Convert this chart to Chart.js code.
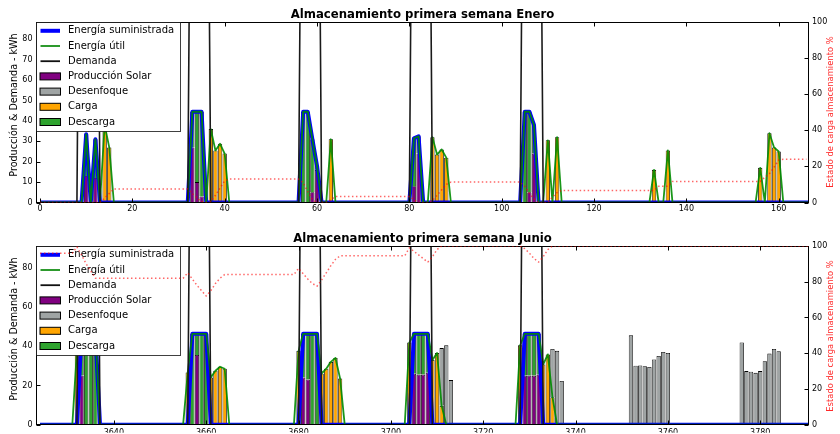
<!DOCTYPE html>
<html lang="es">
<head>
<meta charset="utf-8">
<title>Almacenamiento primera semana</title>
<script src="https://cdn.jsdelivr.net/npm/chart.js@4.4.1/dist/chart.umd.min.js"></script>
<style>
  html, body { margin: 0; padding: 0; background: #ffffff; }
  canvas { display: block; }
</style>
</head>
<body>
<canvas id="graficoEnero" width="840" height="217"></canvas>
<canvas id="graficoJunio" width="840" height="217"></canvas>
<script>
const FUENTE = "'DejaVu Sans', sans-serif";

// ---- Semana de enero: pares [hora, valor] ----
const eneroTicksX = [0, 20, 40, 60, 80, 100, 120, 140, 160];
const eneroTicksY = [0, 10, 20, 30, 40, 50, 60, 70, 80];

const eneroDemanda = [[0, 0], [8, 0], [9, 300], [12, 300], [13, 0], [32, 0], [33, 300], [36, 300], [37, 0],
  [56, 0], [57, 300], [60, 300], [61, 0], [80, 0], [81, 300], [84, 300], [85, 0],
  [104, 0], [105, 300], [108, 300], [109, 0], [167, 0]];
const eneroSuministrada = [[0, 0], [9, 0], [10, 33.5], [11, 0], [12, 31], [13, 0], [32, 0], [33, 44.5], [34, 44.5],
  [35, 44.5], [36, 0], [56, 0], [57, 44.5], [58, 44.5], [59, 31], [60, 18], [61, 0], [80, 0], [81, 31.5],
  [82, 32.5], [83, 0], [104, 0], [105, 44.5], [106, 44.5], [107, 38], [108, 0], [167, 0]];
const eneroUtil = [[0, 0], [9, 0], [10, 33.5], [11, 0], [12, 31], [13, 0], [14, 38], [15, 27], [16, 0],
  [32, 0], [33, 44.5], [34, 44.5], [35, 44.5], [36, 0], [37, 36], [38, 25.5], [39, 28.8], [40, 24], [41, 0],
  [56, 0], [57, 44.5], [58, 44.5], [59, 31], [60, 18], [61, 0], [62, 0], [63, 31], [64, 0],
  [80, 0], [81, 31.5], [82, 32.5], [83, 0], [84, 0], [85, 32], [86, 23.5], [87, 26], [88, 22], [89, 0],
  [104, 0], [105, 44.5], [106, 44.5], [107, 38], [108, 0], [109, 0], [110, 30.5], [111, 0], [112, 32], [113, 0],
  [132, 0], [133, 16], [134, 0], [135, 0], [136, 25.5], [137, 0],
  [155, 0], [156, 17], [157, 0], [158, 34], [159, 27], [160, 25], [161, 0], [167, 0]];
const eneroSolar = [[10, 13], [12, 12], [33, 27], [34, 10], [35, 3], [59, 5], [60, 16], [81, 8], [82, 24],
  [106, 5], [107, 24]];
const eneroDescarga = [[10, 20.5], [12, 19], [33, 17.5], [34, 34.5], [35, 41.5], [57, 44.5], [58, 44.5],
  [59, 26], [60, 2], [81, 23.5], [82, 8.5], [105, 44.5], [106, 39.5], [107, 14]];
const eneroCarga = [[14, 38], [15, 27], [37, 36], [38, 25.5], [39, 28.8], [40, 24], [63, 31], [85, 32],
  [86, 23.5], [87, 26], [88, 22], [110, 30.5], [112, 32], [133, 16], [136, 25.5], [156, 17], [158, 34],
  [159, 27], [160, 25]];
const eneroDesenfoque = [];
const eneroEstadoCarga = [[0, 0], [13, 0], [14, 2.5], [15, 5], [16, 7.5], [32, 7.5], [33, 5], [34, 2.5],
  [35, 0.5], [36, 0], [37, 0.5], [38, 4], [39, 8], [40, 12], [41, 13], [56, 13], [57, 11], [58, 6],
  [59, 1.5], [60, 0], [62, 0], [63, 1.5], [64, 3.3], [80, 3.3], [81, 1.5], [82, 0], [84, 0], [85, 1],
  [86, 4], [87, 7], [88, 10], [89, 11.3], [104, 11.3], [105, 9], [106, 5], [107, 2], [108, 0], [110, 0],
  [111, 3], [112, 5.5], [113, 6.7], [133, 6.7], [134, 9], [136, 9], [137, 11.7], [156, 11.7], [157, 14],
  [158, 16], [159, 19.5], [160, 23.5], [161, 24], [166, 24]];

// ---- Semana de junio: horas desde el inicio de junio ----
const inicioJunio = 3624;
const junioTicksX = [3640, 3660, 3680, 3700, 3720, 3740, 3760, 3780];
const junioTicksY = [0, 20, 40, 60, 80];

const junioDemanda = [[0, 0], [8, 0], [9, 300], [12, 300], [13, 0], [32, 0], [33, 300], [36, 300], [37, 0],
  [56, 0], [57, 300], [60, 300], [61, 0], [80, 0], [81, 300], [84, 300], [85, 0],
  [104, 0], [105, 300], [108, 300], [109, 0], [167, 0]];
const junioSuministrada = [[0, 0], [8, 0], [9, 46.3], [12, 46.3], [13, 0], [32, 0], [33, 46.3], [36, 46.3],
  [37, 0], [56, 0], [57, 46.3], [60, 46.3], [61, 0], [80, 0], [81, 46.3], [84, 46.3], [85, 0],
  [104, 0], [105, 46.3], [108, 46.3], [109, 0], [167, 0]];
const junioUtil = [[0, 0], [7, 0], [8, 38], [9, 46.3], [12, 46.3], [13, 0], [31, 0], [32, 26.6], [33, 46.3],
  [36, 46.3], [37, 24], [38, 27.5], [39, 29.5], [40, 28.5], [41, 0], [55, 0], [56, 37.5], [57, 46.3],
  [60, 46.3], [61, 26], [62, 28.5], [63, 32], [64, 34], [65, 23.5], [66, 0], [79, 0], [80, 41.8],
  [81, 46.3], [84, 46.3], [85, 33], [86, 36.5], [87, 9.6], [88, 0], [103, 0], [104, 40.4], [105, 46.3],
  [108, 46.3], [109, 30.7], [110, 35.8], [111, 14], [112, 0], [167, 0]];
const junioSolar = [[9, 25], [34, 35.5], [57, 24], [58, 23], [81, 26], [82, 25.5], [83, 25.5], [84, 26.5],
  [105, 25], [106, 25], [107, 25], [108, 25.5]];
const junioDescarga = [[9, 21.3], [10, 46.3], [11, 46.3], [12, 46.3], [33, 46.3], [34, 10.8], [35, 46.3],
  [36, 46.3], [57, 22.3], [58, 23.3], [59, 46.3], [60, 46.3], [81, 20.3], [82, 20.8], [83, 20.8],
  [84, 19.8], [105, 21.3], [106, 21.3], [107, 21.3], [108, 20.8]];
const junioCarga = [[8, 38], [32, 26.6], [37, 24], [38, 27.5], [39, 29.5], [40, 28.5], [56, 37.5], [61, 26],
  [62, 28.5], [63, 32], [64, 34], [65, 23.5], [80, 41.8], [85, 33], [86, 36.5], [87, 9.6], [104, 40.4],
  [109, 30.7], [110, 35.8], [111, 14]];
const junioDesenfoque = [[87, 29.4], [88, 40.4], [89, 22.7], [111, 24.6], [112, 37.6], [113, 22.3],
  [128, 45.5], [129, 30], [130, 30.2], [131, 29.8], [132, 29.4], [133, 33.2], [134, 35], [135, 37], [136, 36.5],
  [152, 41.9], [153, 27.3], [154, 27], [155, 26.4], [156, 27.3], [157, 32.3], [158, 36.2], [159, 38.6], [160, 37.4]];
const junioEstadoCarga = [[0, 96], [7, 96], [8, 99.5], [9, 95], [10, 90], [11, 86], [12, 82], [31, 82],
  [32, 85], [33, 81.5], [34, 78], [35, 75], [36, 72], [37, 75], [38, 79], [39, 82], [40, 84], [55, 84],
  [56, 87.5], [57, 84.5], [58, 81.5], [59, 79], [60, 77.5], [61, 81], [62, 85], [63, 89], [64, 92.5],
  [65, 94.5], [79, 94.5], [80, 99], [81, 97], [82, 95], [83, 93], [84, 91], [85, 94], [86, 98], [87, 100],
  [104, 100], [105, 98.5], [106, 96], [107, 93], [108, 91], [109, 94], [110, 98], [111, 100], [167, 100]];

const ticksEstadoCarga = [0, 20, 40, 60, 80, 100];

const entradasLeyenda = [
  { texto: "Energía suministrada", tipo: "linea", color: "#0000ff", ancho: 4 },
  { texto: "Energía útil", tipo: "linea", color: "#168f16", ancho: 1.8 },
  { texto: "Demanda", tipo: "linea", color: "#111111", ancho: 1.8 },
  { texto: "Producción Solar", tipo: "caja", color: "#800080" },
  { texto: "Desenfoque", tipo: "caja", color: "#9fa4a4" },
  { texto: "Carga", tipo: "caja", color: "#ffa500" },
  { texto: "Descarga", tipo: "caja", color: "#2ea32e" },
];

Chart.defaults.font.family = FUENTE;

function aPuntos(pares, desfase) {
  return pares.map(([hora, valor]) => ({ x: hora + desfase, y: valor }));
}

function fijarTicks(valores) {
  return function (scale) {
    scale.ticks = valores.map((v) => ({ value: v }));
  };
}

function linea(etiqueta, pares, desfase, extra) {
  return Object.assign({
    type: "line",
    label: etiqueta,
    data: aPuntos(pares, desfase),
    pointRadius: 0,
    pointHoverRadius: 0,
    fill: false,
    tension: 0,
    borderJoinStyle: "round",
    clip: 0,
  }, extra);
}

function barra(etiqueta, pares, desfase, color, orden) {
  return {
    type: "bar",
    label: etiqueta,
    data: aPuntos(pares, desfase),
    stack: "barras",
    backgroundColor: color,
    borderColor: "#000000",
    borderWidth: 0.8,
    barPercentage: 0.93,
    categoryPercentage: 1,
    order: orden,
    clip: 0,
  };
}

function crearDatasets(d) {
  return [
    linea("Estado de carga", d.estado, d.desfase, {
      yAxisID: "y1", borderColor: "rgba(255, 0, 0, 0.6)", borderWidth: 1.5,
      borderDash: [1.5, 2.5], order: 0,
    }),
    linea("Demanda", d.demanda, d.desfase, {
      yAxisID: "y", stack: "demanda", borderColor: "#1a1a1a", borderWidth: 1.6, order: 1,
    }),
    linea("Energía útil", d.util, d.desfase, {
      yAxisID: "y", stack: "util", borderColor: "rgba(0, 140, 0, 0.9)", borderWidth: 1.8, order: 2,
    }),
    linea("Energía suministrada", d.suministrada, d.desfase, {
      yAxisID: "y", stack: "suministrada", borderColor: "#0000ff", borderWidth: 4, order: 3,
    }),
    barra("Producción Solar", d.solar, d.desfase, "#800080", 4),
    barra("Descarga", d.descarga, d.desfase, "#2ea32e", 5),
    barra("Carga", d.carga, d.desfase, "#ffa500", 6),
    barra("Desenfoque", d.desenfoque, d.desfase, "#9fa4a4", 7),
  ];
}

function dibujarMarco(chart) {
  const { ctx, chartArea: a, scales } = chart;
  const izq = Math.floor(a.left) - 0.5;
  const der = Math.floor(a.right) + 0.5;
  const arr = Math.floor(a.top) + 0.5;
  const ab = Math.floor(a.bottom) + 0.5;
  ctx.save();
  ctx.strokeStyle = "#000000";
  ctx.lineWidth = 1;
  ctx.beginPath();
  scales.x.ticks.forEach((t) => {
    const px = Math.round(scales.x.getPixelForValue(t.value)) + 0.5;
    ctx.moveTo(px, ab); ctx.lineTo(px, ab - 4);
    ctx.moveTo(px, arr); ctx.lineTo(px, arr + 4);
  });
  scales.y.ticks.forEach((t) => {
    const py = Math.round(scales.y.getPixelForValue(t.value)) + 0.5;
    ctx.moveTo(izq, py); ctx.lineTo(izq + 4, py);
  });
  scales.y1.ticks.forEach((t) => {
    const py = Math.round(scales.y1.getPixelForValue(t.value)) + 0.5;
    ctx.moveTo(der, py); ctx.lineTo(der - 4, py);
  });
  ctx.stroke();
  ctx.strokeRect(izq, arr, der - izq, ab - arr);
  ctx.restore();
}

function dibujarLeyenda(chart) {
  const { ctx, chartArea } = chart;
  const x0 = Math.floor(chartArea.left) - 0.5;
  const y0 = Math.floor(chartArea.top) + 0.5;
  ctx.save();
  ctx.fillStyle = "#ffffff";
  ctx.fillRect(x0, y0, 144, 109);
  ctx.strokeStyle = "rgba(0, 0, 0, 0.75)";
  ctx.lineWidth = 1;
  ctx.strokeRect(x0, y0, 144, 109);
  ctx.font = `10px ${FUENTE}`;
  ctx.textBaseline = "middle";
  entradasLeyenda.forEach((e, i) => {
    const y = y0 + 8.3 + i * 15.2;
    if (e.tipo === "linea") {
      ctx.strokeStyle = e.color;
      ctx.lineWidth = e.ancho;
      ctx.beginPath();
      ctx.moveTo(x0 + 4, y);
      ctx.lineTo(x0 + 23.5, y);
      ctx.stroke();
    } else {
      ctx.fillStyle = e.color;
      ctx.fillRect(x0 + 3.5, y - 3.5, 20.5, 7);
      ctx.strokeStyle = "#000000";
      ctx.lineWidth = 1;
      ctx.strokeRect(x0 + 3.5, y - 3.5, 20.5, 7);
    }
    ctx.fillStyle = "#000000";
    ctx.fillText(e.texto, x0 + 31.5, y);
  });
  ctx.restore();
}

function dibujarTitulosEje(chart) {
  const { ctx, chartArea: a } = chart;
  ctx.save();
  ctx.textAlign = "center";
  ctx.textBaseline = "middle";
  ctx.font = `9.6px ${FUENTE}`;
  ctx.fillStyle = "#000000";
  ctx.translate(14, a.top + 83);
  ctx.rotate(-Math.PI / 2);
  ctx.fillText("Producción & Demanda - kWh", 0, 0);
  ctx.restore();

  ctx.save();
  ctx.textAlign = "center";
  ctx.textBaseline = "middle";
  ctx.font = `8.4px ${FUENTE}`;
  ctx.fillStyle = "#ff2a2a";
  ctx.translate(831, a.top + 90);
  ctx.rotate(-Math.PI / 2);
  ctx.fillText("Estado de carga almacenamiento %", 0, 0);
  ctx.restore();
}

const pluginEstilo = {
  id: "estiloMatplotlib",
  beforeDatasetDraw(chart, args) {
    if (args.meta.yAxisID !== "y1") return;
    dibujarMarco(chart);
    dibujarLeyenda(chart);
  },
  afterDraw(chart) {
    dibujarTitulosEje(chart);
  },
};

function crearGrafico(idCanvas, cfg) {
  const fuenteTicks = { family: FUENTE, size: 8 };
  return new Chart(document.getElementById(idCanvas), {
    type: "bar",
    data: { datasets: crearDatasets(cfg) },
    options: {
      responsive: false,
      animation: false,
      events: [],
      layout: { padding: 0 },
      plugins: {
        legend: { display: false },
        tooltip: { enabled: false },
        title: {
          display: true,
          text: cfg.titulo,
          fullSize: false,
          color: "#000000",
          font: { family: FUENTE, size: 11.7, weight: "bold", lineHeight: 1 },
          padding: { top: cfg.tituloArriba, bottom: cfg.tituloAbajo },
        },
      },
      scales: {
        x: {
          type: "linear",
          min: cfg.xMin,
          max: cfg.xMax,
          offset: false,
          grid: { display: false, drawTicks: false },
          border: { display: false },
          afterBuildTicks: fijarTicks(cfg.ticksX),
          afterFit: (s) => { s.height = cfg.altoEjeX; },
          ticks: {
            color: "#000000", font: fuenteTicks, padding: cfg.rellenoX,
            maxRotation: 0, autoSkip: false, callback: (v) => String(v),
          },
        },
        y: {
          position: "left",
          stacked: true,
          min: 0,
          max: cfg.yMax,
          grid: { display: false, drawTicks: false },
          border: { display: false },
          afterBuildTicks: fijarTicks(cfg.ticksY),
          afterFit: (s) => { s.width = 37; },
          ticks: { color: "#000000", font: fuenteTicks, padding: 4.5, callback: (v) => String(v) },
        },
        y1: {
          position: "right",
          min: 0,
          max: 100,
          grid: { display: false, drawTicks: false },
          border: { display: false },
          afterBuildTicks: fijarTicks(ticksEstadoCarga),
          afterFit: (s) => { s.width = 32; },
          ticks: { color: "#000000", font: fuenteTicks, padding: 4, callback: (v) => String(v) },
        },
      },
    },
    plugins: [pluginEstilo],
  });
}

document.addEventListener("DOMContentLoaded", function () {
  crearGrafico("graficoEnero", {
    titulo: "Almacenamiento primera semana Enero",
    desfase: 0,
    demanda: eneroDemanda, suministrada: eneroSuministrada, util: eneroUtil,
    solar: eneroSolar, descarga: eneroDescarga, carga: eneroCarga, desenfoque: eneroDesenfoque,
    estado: eneroEstadoCarga,
    ticksX: eneroTicksX, ticksY: eneroTicksY,
    xMin: -0.65, xMax: 166.35, yMax: 88.5,
    tituloArriba: 9.2, tituloAbajo: 1.1, altoEjeX: 14.5, rellenoX: 1.5,
  });
  crearGrafico("graficoJunio", {
    titulo: "Almacenamiento primera semana Junio",
    desfase: inicioJunio,
    demanda: junioDemanda, suministrada: junioSuministrada, util: junioUtil,
    solar: junioSolar, descarga: junioDescarga, carga: junioCarga, desenfoque: junioDesenfoque,
    estado: junioEstadoCarga,
    ticksX: junioTicksX, ticksY: junioTicksY,
    xMin: inicioJunio - 0.65, xMax: inicioJunio + 166.35, yMax: 91,
    tituloArriba: 16.2, tituloAbajo: 1.1, altoEjeX: 8, rellenoX: 3.5,
  });
});
</script>
</body>
</html>
